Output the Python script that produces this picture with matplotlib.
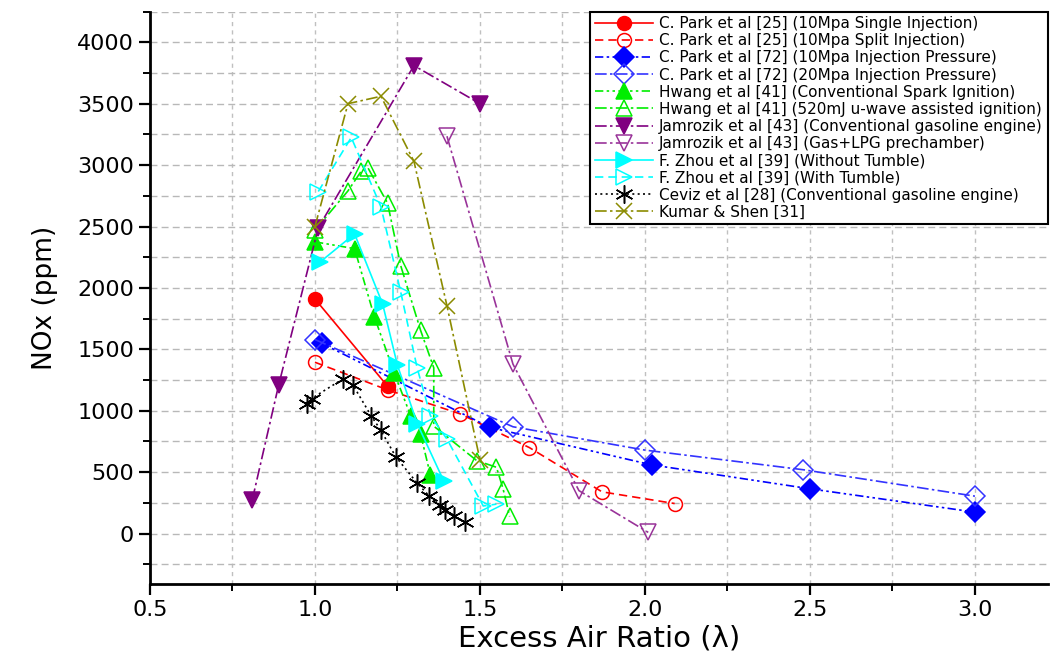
import matplotlib

matplotlib.use("Agg")
import matplotlib.pyplot as plt
from matplotlib.ticker import MultipleLocator, FormatStrFormatter

plt.rcParams["font.family"] = ["DejaVu Sans"]

# --- data (lambda, NOx ppm) ---
park25_single_x = [1.0, 1.22]
park25_single_y = [1910, 1200]
park25_split_x = [1.0, 1.22, 1.44, 1.65, 1.87, 2.09]
park25_split_y = [1395, 1170, 975, 700, 340, 245]
park72_10_x = [1.02, 1.53, 2.02, 2.5, 3.0]
park72_10_y = [1550, 865, 560, 365, 175]
park72_20_x = [1.0, 1.6, 2.0, 2.48, 3.0]
park72_20_y = [1580, 870, 680, 520, 305]
hwang_si_x = [1.0, 1.12, 1.18, 1.24, 1.29, 1.32, 1.35]
hwang_si_y = [2375, 2320, 1765, 1310, 960, 810, 475]
hwang_mw_x = [1.0, 1.1, 1.14, 1.16, 1.22, 1.26, 1.32, 1.36, 1.36, 1.49, 1.55, 1.57, 1.59]
hwang_mw_y = [2470, 2790, 2950, 2980, 2690, 2180, 1655, 1350, 875, 595, 540, 365, 140]
jam_conv_x = [0.81, 0.89, 1.01, 1.30, 1.50]
jam_conv_y = [275, 1210, 2490, 3810, 3500]
jam_lpg_x = [1.40, 1.60, 1.80, 2.01]
jam_lpg_y = [3235, 1380, 350, 10]
zhou_no_x = [1.015, 1.12, 1.205, 1.25, 1.31, 1.39]
zhou_no_y = [2210, 2440, 1870, 1370, 895, 430]
zhou_tum_x = [1.01, 1.11, 1.2, 1.26, 1.31, 1.35, 1.40, 1.51, 1.55]
zhou_tum_y = [2785, 3225, 2660, 1965, 1345, 960, 770, 225, 240]
ceviz_x = [0.975, 0.99, 1.085, 1.115, 1.17, 1.20, 1.245, 1.31, 1.345, 1.38, 1.395, 1.42, 1.455]
ceviz_y = [1055, 1100, 1260, 1210, 960, 840, 625, 410, 310, 230, 190, 140, 95]
kumar_x = [1.0, 1.1, 1.2, 1.3, 1.4, 1.5]
kumar_y = [2500, 3500, 3560, 3030, 1855, 600]

labels = [
    "C. Park et al [25] (10Mpa Single Injection)",
    "C. Park et al [25] (10Mpa Split Injection)",
    "C. Park et al [72] (10Mpa Injection Pressure)",
    "C. Park et al [72] (20Mpa Injection Pressure)",
    "Hwang et al [41] (Conventional Spark Ignition)",
    "Hwang et al [41] (520mJ u-wave assisted ignition)",
    "Jamrozik et al [43] (Conventional gasoline engine)",
    "Jamrozik et al [43] (Gas+LPG prechamber)",
    "F. Zhou et al [39] (Without Tumble)",
    "F. Zhou et al [39] (With Tumble)",
    "Ceviz et al [28] (Conventional gasoline engine)",
    "Kumar & Shen [31]",
]

SOLID = "-"
DASH = (0, (5, 3))
DASHDOT = (0, (7, 2, 1.5, 2))
DASHDOTDOT = (0, (5, 2, 1.5, 2, 1.5, 2))
DOT = (0, (1.2, 2))

RED = "#ff0000"
BLUE = "#0000ff"
BLUE2 = "#3333ff"
GREEN = "#00ee00"
PURPLE = "#800080"
PURPLE2 = "#993399"
CYAN = "#00ffff"
OLIVE = "#8b8b00"

series = [
    (park25_single_x, park25_single_y, RED, SOLID, "o", True, 10),
    (park25_split_x, park25_split_y, RED, DASH, "o", False, 10),
    (park72_10_x, park72_10_y, BLUE, DASHDOTDOT, "D", True, 10),
    (park72_20_x, park72_20_y, BLUE2, DASHDOT, "D", False, 10),
    (hwang_si_x, hwang_si_y, GREEN, DASHDOTDOT, "^", True, 12),
    (hwang_mw_x, hwang_mw_y, GREEN, DASHDOT, "^", False, 12),
    (jam_conv_x, jam_conv_y, PURPLE, DASHDOT, "v", True, 12),
    (jam_lpg_x, jam_lpg_y, PURPLE2, DASHDOT, "v", False, 12),
    (zhou_no_x, zhou_no_y, CYAN, SOLID, ">", True, 12),
    (zhou_tum_x, zhou_tum_y, CYAN, DASH, ">", False, 12),
    (ceviz_x, ceviz_y, "black", DOT, (6, 2, 0), True, 13),
    (kumar_x, kumar_y, OLIVE, DASHDOT, "x", True, 12),
]

fig = plt.figure(figsize=(10.51, 6.52), dpi=100)
ax = fig.add_axes([0.1427, 0.1043, 0.854, 0.878])

for (xs, ys, col, ls, mk, filled, ms), lab in zip(series, labels):
    ax.plot(xs, ys, color=col, linestyle=ls, linewidth=1.2, marker=mk,
            markersize=ms, markerfacecolor=col if filled else "none",
            markeredgecolor=col, markeredgewidth=1.1, label=lab)

ax.set_xlim(0.5, 3.22)
ax.set_ylim(-410, 4250)
ax.xaxis.set_major_locator(MultipleLocator(0.5))
ax.xaxis.set_minor_locator(MultipleLocator(0.25))
ax.yaxis.set_major_locator(MultipleLocator(500))
ax.yaxis.set_minor_locator(MultipleLocator(250))
ax.xaxis.set_major_formatter(FormatStrFormatter("%.1f"))

# dashed grid on major and minor positions
ax.grid(True, which="both", axis="y", color="#b8b8b8", linestyle=(0, (5, 3)),
        linewidth=1.0)
ax.grid(True, which="both", axis="x", color="#c0c0c0", linestyle=(0, (3, 3)),
        linewidth=1.0)
ax.set_axisbelow(True)

for side in ("top", "right"):
    ax.spines[side].set_visible(False)
for side in ("left", "bottom"):
    ax.spines[side].set_linewidth(2)

ax.tick_params(which="major", direction="out", length=8, width=1.6,
               labelsize=16)
ax.tick_params(which="minor", direction="out", length=5, width=1.4)

ax.set_xlabel("Excess Air Ratio (λ)", fontsize=21, labelpad=3)
ax.set_ylabel("NOx (ppm)", fontsize=19, labelpad=14)

leg = ax.legend(loc="upper right", bbox_to_anchor=(1.0, 1.0),
                borderaxespad=0, fontsize=11, labelspacing=0.14,
                handlelength=3.8, handletextpad=0.4, borderpad=0.3,
                fancybox=False, framealpha=1, edgecolor="black")
leg.get_frame().set_linewidth(1.5)

fig.savefig("out.png", dpi=100)
